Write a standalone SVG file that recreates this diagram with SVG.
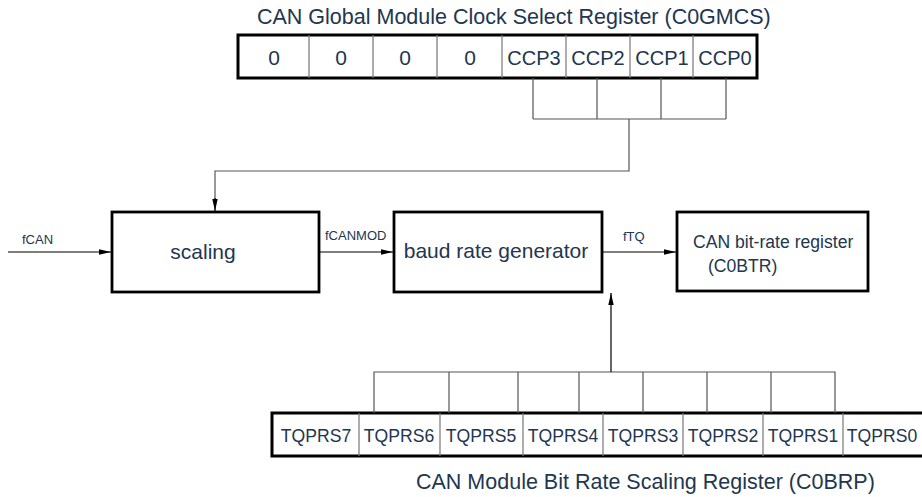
<svg xmlns="http://www.w3.org/2000/svg" width="922" height="497" viewBox="0 0 922 497">
<style>
text{font-family:"Liberation Sans",Arial,sans-serif;fill:#22364f}
.t{font-size:21.5px}
.z{font-size:21px;text-anchor:middle}
.c{font-size:20px;text-anchor:middle}
.b{font-size:17.6px;text-anchor:middle}
.lbl{font-size:13px}
.blk{font-size:21px;text-anchor:middle}
.cbr{font-size:17.6px}
.outer{fill:#fff;stroke:#000;stroke-width:3}
.div{stroke:#777;stroke-width:1.2;fill:none}
.w{stroke:#555;stroke-width:1.2;fill:none}
.a{stroke:#000;stroke-width:1.2;fill:none}
.box{fill:#fff;stroke:#000;stroke-width:2.8}
</style>
<defs>
<marker id="ah" viewBox="0 0 12 6" refX="12" refY="3" markerWidth="12" markerHeight="6" markerUnits="userSpaceOnUse" orient="auto">
<path d="M0,0.3 L12,3 L0,5.7 z" fill="#000"/>
</marker>
</defs>

<g id="reg-c0gmcs">
<text class="t" x="257" y="24">CAN Global Module Clock Select Register (C0GMCS)</text>
<rect class="outer" x="238" y="35" width="519" height="43"/>
<path class="div" d="M309,35V78M373,35V78M437,35V78M502,35V78M566,35V78M630,35V78M693,35V78"/>
<text class="z" x="274" y="65">0</text>
<text class="z" x="341" y="65">0</text>
<text class="z" x="405" y="65">0</text>
<text class="z" x="470" y="65">0</text>
<text class="c" x="534" y="65">CCP3</text>
<text class="c" x="598" y="65">CCP2</text>
<text class="c" x="662" y="65">CCP1</text>
<text class="c" x="725" y="65">CCP0</text>
</g>

<g id="scaling">
<rect class="box" x="112" y="212" width="207" height="80"/>
<text class="blk" x="203" y="259">scaling</text>
</g>

<g id="baud-rate-generator">
<rect class="box" x="394" y="212" width="208" height="80"/>
<text class="blk" x="496" y="258">baud rate generator</text>
</g>

<g id="c0btr">
<rect class="box" x="677" y="212" width="191" height="79"/>
<text class="cbr" x="693" y="248">CAN bit-rate register</text>
<text class="cbr" x="708" y="272">(C0BTR)</text>
</g>

<g id="reg-c0brp">
<rect class="outer" x="272" y="413" width="652" height="43"/>
<path class="div" d="M359,413V456M440,413V456M523,413V456M603,413V456M683,413V456M763,413V456M843,413V456"/>
<text class="b" x="316" y="442">TQPRS7</text>
<text class="b" x="399" y="442">TQPRS6</text>
<text class="b" x="481" y="442">TQPRS5</text>
<text class="b" x="563" y="442">TQPRS4</text>
<text class="b" x="643" y="442">TQPRS3</text>
<text class="b" x="723" y="442">TQPRS2</text>
<text class="b" x="803" y="442">TQPRS1</text>
<text class="b" x="882" y="442">TQPRS0</text>
<text class="t" x="416" y="489">CAN Module Bit Rate Scaling Register (C0BRP)</text>
</g>

<g id="connectors">
<path class="w" d="M533,78V119M597,78V119M661,78V119M726,78V119M533,119H726"/>
<path class="w" d="M629,119V171H215V200"/>
<path class="a" d="M215,198V211" marker-end="url(#ah)"/>
<path class="a" d="M8,252H111" marker-end="url(#ah)"/>
<text class="lbl" x="22" y="244">fCAN</text>
<path class="a" d="M320,252H393" marker-end="url(#ah)"/>
<text class="lbl" x="325" y="240">fCANMOD</text>
<path class="a" d="M603,252H676" marker-end="url(#ah)"/>
<text class="lbl" x="623" y="241">fTQ</text>
<path class="w" d="M374,413V372H835V413M449,372V413M518,372V413M579,372V413M643,372V413M707,372V413M771,372V413"/>
<path class="a" d="M611,372V293" marker-end="url(#ah)"/>
</g>
</svg>
